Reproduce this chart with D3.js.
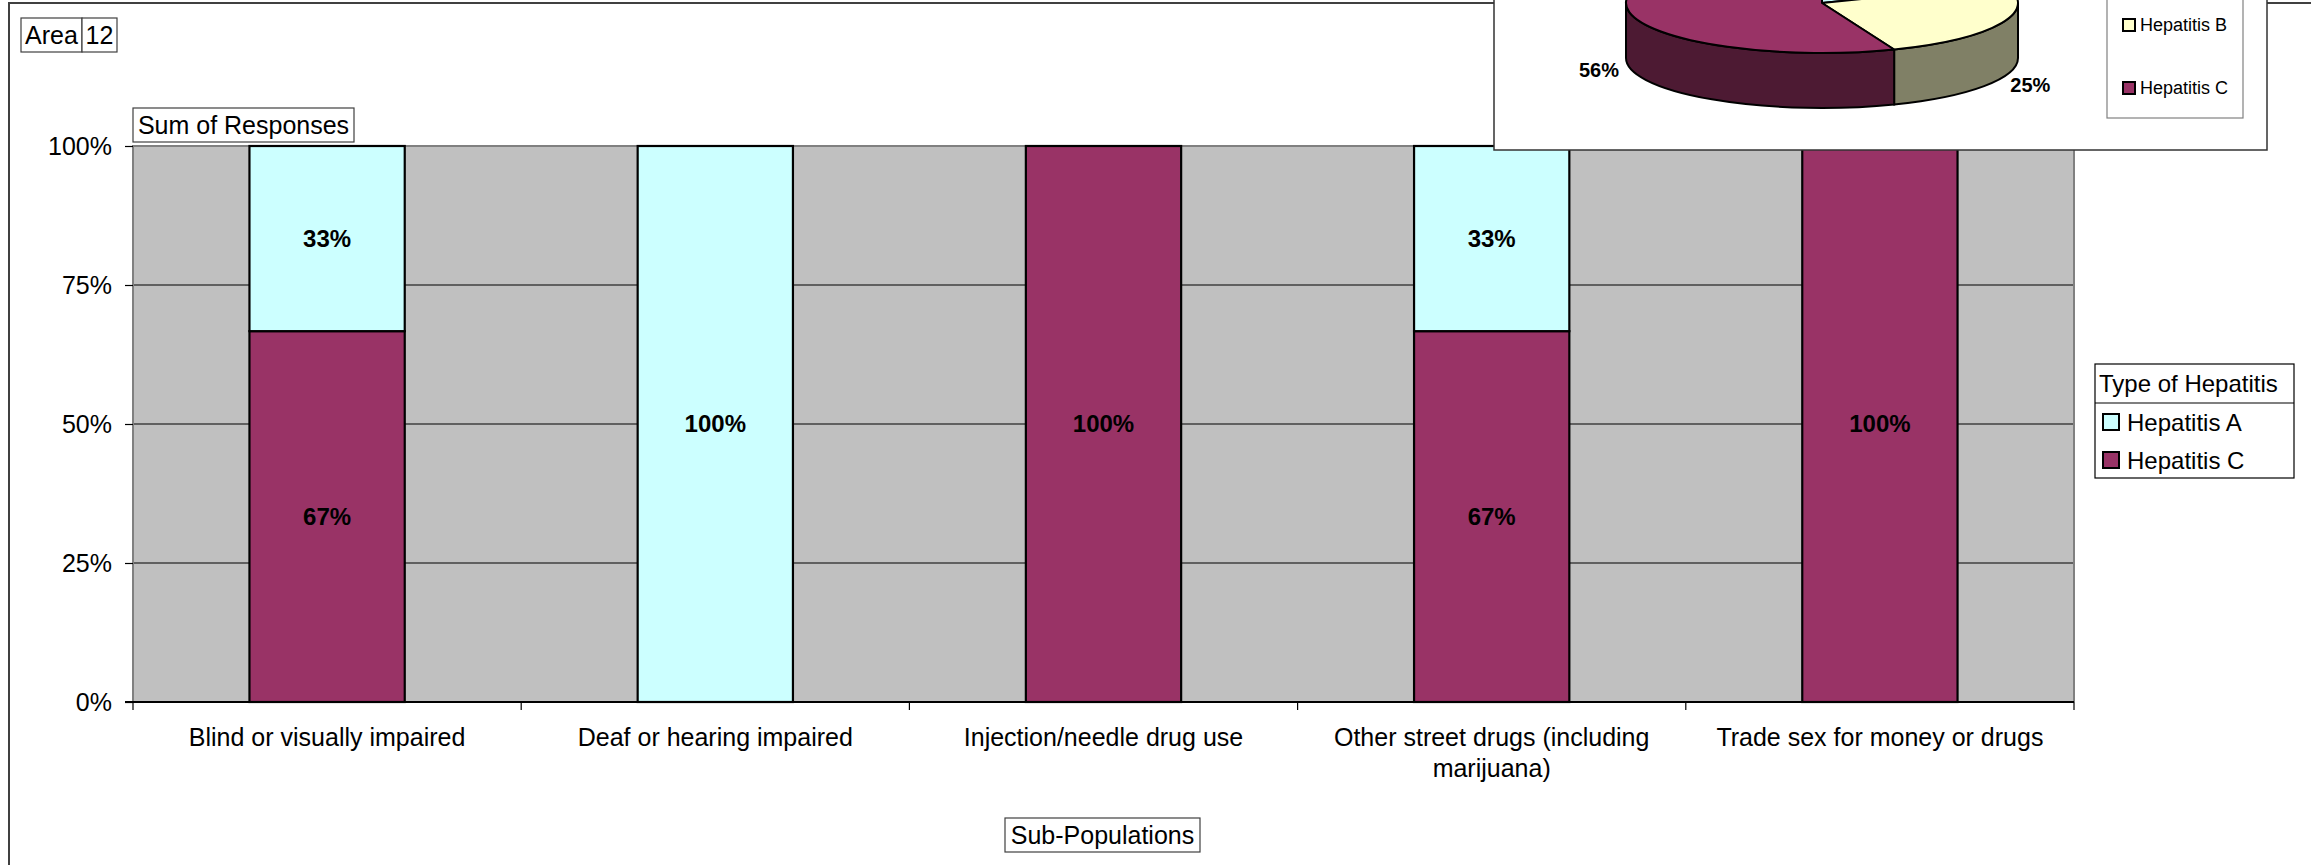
<!DOCTYPE html>
<html>
<head>
<meta charset="utf-8">
<script src="https://cdn.jsdelivr.net/npm/d3@7"></script>
<style>
  html, body { margin: 0; padding: 0; background: #fff; }
  svg { display: block; font-family: "Liberation Sans", Arial, sans-serif; }
</style>
</head>
<body>
<svg id="chart" width="2311" height="865"></svg>
<script>
// ---- data ----
const categories = [
  "Blind or visually impaired",
  "Deaf or hearing impaired",
  "Injection/needle drug use",
  "Other street drugs (including marijuana)",
  "Trade sex for money or drugs"
];
const seriesNames = ["Hepatitis C", "Hepatitis A"];          // stack order bottom -> top
const hepatitisC = [66.7, 0, 100, 66.7, 100];
const hepatitisA = [33.3, 100, 0, 33.3, 0];
const yTicks = [0, 25, 50, 75, 100];
const legendNames = ["Hepatitis A", "Hepatitis C"];

const pieNames = ["Hepatitis A", "Hepatitis B", "Hepatitis C"];
const pieValues = [19, 25, 56];

// ---- styles ----
const colors = { "Hepatitis A": "#CCFFFF", "Hepatitis B": "#FFFFCC", "Hepatitis C": "#993366" };
const sideColors = { "Hepatitis A": "#668080", "Hepatitis B": "#808066", "Hepatitis C": "#4D1A33" };

const svg = d3.select("#chart");
const W = 2311, H = 865;

// outer chart-area border
svg.append("path").attr("d", `M9,${H} L9,3 L${W},3`).attr("fill", "none")
  .attr("stroke", "#404040").attr("stroke-width", 2);

// ---- bar chart ----
const plot = { left: 133, right: 2074, top: 146, bottom: 702 };
const x = d3.scaleBand().domain(categories).range([plot.left, plot.right]).padding(0);
const y = d3.scaleLinear().domain([0, 100]).range([plot.bottom, plot.top]);

const g = svg.append("g");
g.append("rect").attr("x", plot.left).attr("y", plot.top)
  .attr("width", plot.right - plot.left).attr("height", plot.bottom - plot.top)
  .attr("fill", "#C0C0C0");

// gridlines
g.selectAll("line.grid").data(yTicks.filter(t => t > 0 && t < 100)).join("line")
  .attr("x1", plot.left).attr("x2", plot.right)
  .attr("y1", d => y(d)).attr("y2", d => y(d))
  .attr("stroke", "#000").attr("stroke-width", 1.2);

// plot border (left/top/right gray)
g.append("path")
  .attr("d", `M${plot.left},${plot.bottom} L${plot.left},${plot.top} L${plot.right},${plot.top} L${plot.right},${plot.bottom}`)
  .attr("fill", "none").attr("stroke", "#808080").attr("stroke-width", 2);

// stacked bars
const rows = categories.map((c, i) => ({ cat: c, "Hepatitis C": hepatitisC[i], "Hepatitis A": hepatitisA[i] }));
const stacked = d3.stack().keys(seriesNames)(rows);
const barW = x.bandwidth() * 0.4;
const fmt = v => Math.round(v) + "%";

stacked.forEach(layer => {
  const key = layer.key;
  const segs = layer.filter(d => d[1] - d[0] > 0);
  g.selectAll(null).data(segs).join("rect")
    .attr("x", d => x(d.data.cat) + (x.bandwidth() - barW) / 2)
    .attr("y", d => y(d[1]))
    .attr("width", barW)
    .attr("height", d => y(d[0]) - y(d[1]))
    .attr("fill", colors[key])
    .attr("stroke", "#000").attr("stroke-width", 2.2);
  g.selectAll(null).data(segs).join("text")
    .attr("x", d => x(d.data.cat) + x.bandwidth() / 2)
    .attr("y", d => y((d[0] + d[1]) / 2))
    .attr("dy", "0.35em")
    .attr("text-anchor", "middle")
    .attr("font-size", 24).attr("font-weight", "bold")
    .text(d => fmt(d[1] - d[0]));
});

// y axis
const yAxis = d3.axisLeft(y).tickValues(yTicks).tickSize(8).tickPadding(13).tickFormat(d => d + "%");
const ya = svg.append("g").attr("transform", `translate(${plot.left},0)`).call(yAxis);
ya.select(".domain").remove();
ya.selectAll(".tick line").attr("stroke", "#000").attr("stroke-width", 1.2);
ya.selectAll(".tick text").attr("font-size", 25).attr("font-family", "Liberation Sans, Arial, sans-serif").attr("fill", "#000");

// x axis line and ticks at category boundaries
svg.append("line").attr("x1", plot.left - 8).attr("x2", plot.right)
  .attr("y1", plot.bottom).attr("y2", plot.bottom).attr("stroke", "#000").attr("stroke-width", 2);
const bounds = categories.map(c => x(c)).concat([plot.right]);
svg.selectAll("line.xtick").data(bounds).join("line")
  .attr("x1", d => d).attr("x2", d => d)
  .attr("y1", plot.bottom).attr("y2", plot.bottom + 8)
  .attr("stroke", "#000").attr("stroke-width", 1.2);

// category labels with wrapping
const measure = svg.append("text").attr("font-size", 25).attr("visibility", "hidden");
function wrapText(str, maxW) {
  const words = str.split(" ");
  const lines = [];
  let cur = "";
  words.forEach(w => {
    const test = cur ? cur + " " + w : w;
    measure.text(test);
    if (measure.node().getComputedTextLength() > maxW && cur) { lines.push(cur); cur = w; }
    else cur = test;
  });
  if (cur) lines.push(cur);
  return lines;
}
categories.forEach(c => {
  const lines = wrapText(c, 345);
  const t = svg.append("text").attr("font-size", 25).attr("text-anchor", "middle");
  lines.forEach((ln, i) => {
    t.append("tspan").attr("x", x(c) + x.bandwidth() / 2).attr("y", 746 + i * 31).text(ln);
  });
});
measure.remove();

// boxed labels
function boxedText(txt, x0, y0, w, h, size) {
  svg.append("rect").attr("x", x0).attr("y", y0).attr("width", w).attr("height", h)
    .attr("fill", "#fff").attr("stroke", "#404040").attr("stroke-width", 1.2);
  svg.append("text").attr("x", x0 + w / 2).attr("y", y0 + h / 2).attr("dy", "0.35em")
    .attr("text-anchor", "middle").attr("font-size", size).text(txt);
}
boxedText("Sum of Responses", 133, 108, 221, 34, 25);
boxedText("Sub-Populations", 1005, 818, 195, 34, 25);
boxedText("Area", 21, 18, 61, 34, 25);
boxedText("12", 82, 18, 35, 34, 25);

// main legend
const lg = svg.append("g");
lg.append("rect").attr("x", 2095).attr("y", 364).attr("width", 199).attr("height", 114)
  .attr("fill", "#fff").attr("stroke", "#000").attr("stroke-width", 1.2);
lg.append("line").attr("x1", 2095).attr("x2", 2294).attr("y1", 403).attr("y2", 403)
  .attr("stroke", "#000").attr("stroke-width", 1.2);
lg.append("text").attr("x", 2099).attr("y", 392).attr("font-size", 24).text("Type of Hepatitis");
legendNames.forEach((n, i) => {
  lg.append("rect").attr("x", 2103).attr("y", 414 + i * 38).attr("width", 16).attr("height", 16)
    .attr("fill", colors[n]).attr("stroke", "#000").attr("stroke-width", 2);
  lg.append("text").attr("x", 2127).attr("y", 431 + i * 38).attr("font-size", 24).text(n);
});

// ---- overlaid 3D pie chart ----
const pg = svg.append("g");
pg.append("rect").attr("x", 1494).attr("y", -10).attr("width", 773).attr("height", 160)
  .attr("fill", "#fff").attr("stroke", "#333").attr("stroke-width", 1.5);

const cx = 1822, cy = 3, rx = 196, ry = 50, depth = 55;
const pt = (a, dy = 0) => [cx + rx * Math.sin(a), cy - ry * Math.cos(a) + dy];
const arcs = d3.pie().sort(null).startAngle(0).endAngle(2 * Math.PI)(pieValues)
  .map((a, i) => Object.assign(a, { name: pieNames[i] }));

// side walls (front half only: angles between PI/2 and 3PI/2)
arcs.forEach(a => {
  const s = Math.max(a.startAngle, Math.PI / 2), e = Math.min(a.endAngle, 3 * Math.PI / 2);
  if (e <= s) return;
  const p0 = pt(s), p1 = pt(e), q1 = pt(e, depth), q0 = pt(s, depth);
  const lf = (e - s) > Math.PI ? 1 : 0;
  pg.append("path")
    .attr("d", `M${p0} A${rx},${ry} 0 ${lf} 1 ${p1} L${q1} A${rx},${ry} 0 ${lf} 0 ${q0} Z`)
    .attr("fill", sideColors[a.name]).attr("stroke", "#000").attr("stroke-width", 2);
});
// tops
arcs.forEach(a => {
  const p0 = pt(a.startAngle), p1 = pt(a.endAngle);
  const lf = (a.endAngle - a.startAngle) > Math.PI ? 1 : 0;
  pg.append("path")
    .attr("d", `M${cx},${cy} L${p0} A${rx},${ry} 0 ${lf} 1 ${p1} Z`)
    .attr("fill", colors[a.name]).attr("stroke", "#000").attr("stroke-width", 2).attr("stroke-linejoin", "round");
});
// labels
arcs.forEach(a => {
  const m = (a.startAngle + a.endAngle) / 2;
  const lx = cx + (rx + 31) * Math.sin(m);
  const ly = cy + 54 - 71 * Math.cos(m);
  if (ly < 20) return; // above the visible area
  pg.append("text").attr("x", lx).attr("y", ly).attr("dy", "0.35em").attr("text-anchor", "middle")
    .attr("font-size", 20).attr("font-weight", "bold")
    .text(Math.round(a.data / d3.sum(pieValues) * 100) + "%");
});

// pie legend (first entry lies above the visible area)
pg.append("rect").attr("x", 2107).attr("y", -80).attr("width", 136).attr("height", 198)
  .attr("fill", "#fff").attr("stroke", "#808080").attr("stroke-width", 1.2);
pieNames.forEach((n, i) => {
  const yc = -38 + i * 63;
  if (yc + 12 < 0) return;
  pg.append("rect").attr("x", 2123).attr("y", yc - 6).attr("width", 12).attr("height", 12)
    .attr("fill", colors[n]).attr("stroke", "#000").attr("stroke-width", 2);
  pg.append("text").attr("x", 2140).attr("y", yc).attr("dy", "0.35em").attr("font-size", 18).text(n);
});
</script>
</body>
</html>
